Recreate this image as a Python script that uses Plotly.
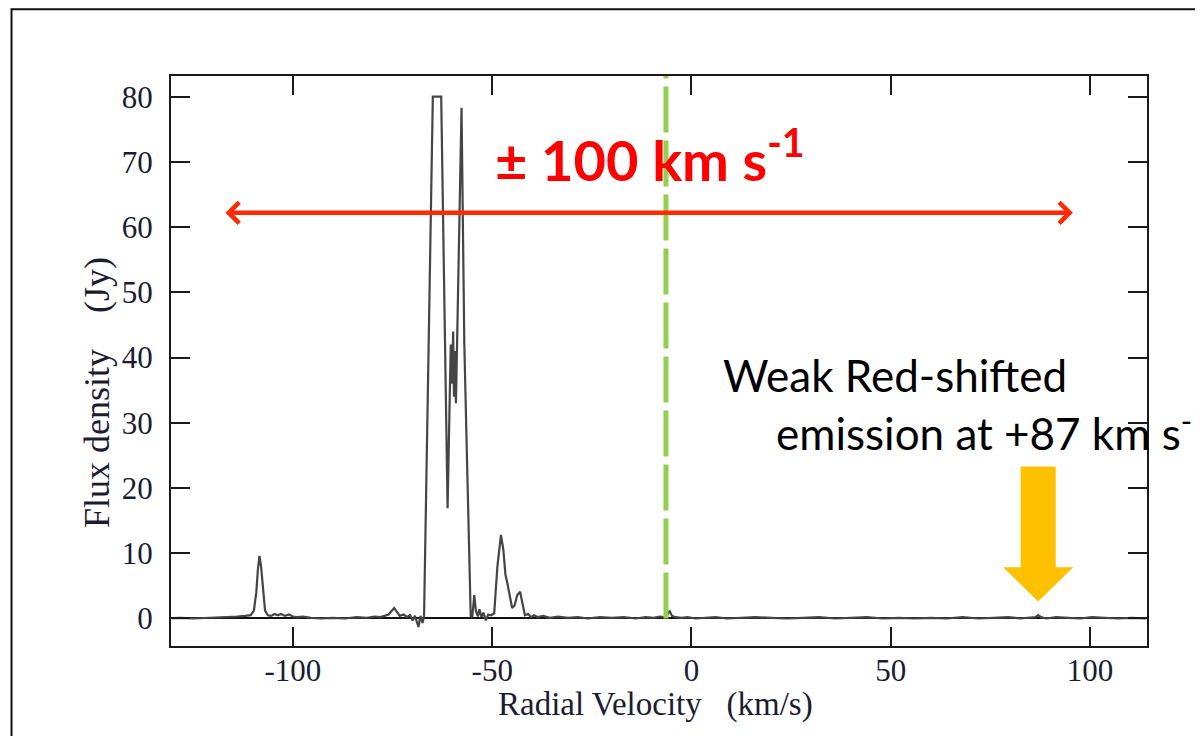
import plotly.graph_objects as go

# ---- data ----
velocity = [
    -130.5, -128, -125, -122, -119, -116.5, -114, -112, -110.6, -109.8,
    -109.2, -108.8, -108.4, -108.0, -107.5, -107.0, -106.3, -105.5, -104.6, -103.8,
    -103.0, -102.0, -101.0, -100.0, -99.0, -97.5, -95.5, -93, -90, -87,
    -84, -81.5, -79.5, -78, -77, -76, -75.3, -74.6, -73.9, -73.2,
    -72.2, -71.4, -70.6, -70, -69.4, -68.9, -68.5, -68.0, -67.5, -67.1,
    -64.9, -62.8, -61.2, -60.4, -60.1, -59.8, -59.6, -59.4, -59.1, -57.7,
    -57.0, -55.4, -55.0, -54.5, -54.1, -53.6, -53.2, -52.7, -52.2, -51.6,
    -51.0, -50.3, -49.5, -48.7, -47.8, -47.2, -46.7, -46.2, -45.6, -45.0,
    -44.4, -43.7, -43.0, -42.4, -41.8, -41.0, -40.3, -39.5, -38.5, -37.2,
    -35.5, -33.5, -31, -28.5, -26, -23, -20, -17, -14, -11.5,
    -9.5, -8, -6.8, -6.0, -5.5, -4.9, -4, -2.5, -1, 1,
    3.5, 6, 9, 12.5, 16, 20, 24, 28, 32, 36,
    40, 44, 48, 52, 56, 60, 64, 68, 72, 76,
    79.5, 82.5, 85, 86.3, 87, 87.7, 89, 91.5, 94.5, 97.5,
    100.5, 103.5, 107, 110.5, 114,
]
flux = [
    0.05, 0.1, 0.0, 0.05, 0.1, 0.2, 0.3, 0.4, 0.5, 1.2,
    4.0, 7.5, 9.6, 8.0, 4.0, 1.2, 0.5, 0.4, 0.7, 0.5,
    0.7, 0.4, 0.6, 0.3, 0.2, 0.3, 0.1, 0.0, 0.1, 0.0,
    0.2, 0.1, 0.3, 0.2, 0.4, 0.6, 1.1, 1.6, 1.0, 0.4,
    0.6, 0.2, 0.5, -0.3, 0.4, -0.6, -1.3, 0.4, -0.7, 0.4,
    80, 80, 16.9, 42, 36, 44, 34, 41, 33, 78.3,
    42, 0.4, 0.2, 3.6, 1.2, 0.3, 1.4, 0.2, 0.9, -0.3,
    0.6, 0.5, 0.8, 8.0, 12.8, 10.5, 6.8, 5.4, 3.2, 1.6,
    2.0, 3.6, 4.1, 2.4, 0.5, 0.7, 0.2, 0.5, 0.2, 0.4,
    0.1, 0.3, 0.1, 0.2, 0.0, 0.2, 0.1, 0.2, 0.0, 0.2,
    0.1, 0.3, 0.2, 0.6, 1.2, 0.4, 0.2, 0.1, 0.2, 0.0,
    0.1, 0.2, 0.0, 0.1, 0.2, 0.1, 0.0, 0.1, 0.2, 0.0,
    0.1, 0.2, 0.0, 0.1, 0.0, 0.1, 0.0, 0.2, 0.0, 0.1,
    0.2, 0.0, 0.1, 0.2, 0.5, 0.2, 0.0, 0.2, 0.1, 0.0,
    0.2, 0.1, 0.0, 0.1, 0.0,
]
assert len(velocity) == len(flux)

x_ticks = [-100, -50, 0, 50, 100]
x_tick_labels = ["-100", "-50", "0", "50", "100"]
y_ticks = [0, 10, 20, 30, 40, 50, 60, 70, 80]
x_range = [-130.6, 114.3]
y_range = [-4.22, 83.17]

systemic_velocity = -6.4          # green dashed line
range_arrow = [-117.3, 95.7]      # red double arrow ends
range_arrow_level = 62.2
weak_feature_velocity = 87        # orange arrow

sp = "\u00a0"
x_title = "Radial Velocity" + sp * 3 + "(km/s)"
y_title = "Flux density" + sp * 4 + "(Jy)"
range_label = "± 100 km s<sup>-1</sup>"
weak_line1 = "Weak Red-shifted"
weak_line2 = "emission at +87 km s<sup>-1</sup>"

serif = "Liberation Serif"
sans = "Lato"
axis_col = "#1a1a1a"
tick_col = "#1c1c30"

fig = go.Figure()
fig.add_trace(go.Scatter(
    x=velocity, y=flux, mode="lines",
    line=dict(color="#454545", width=2.2),
    showlegend=False, hoverinfo="skip",
))

axis_common = dict(
    showgrid=False, showline=True, linecolor=axis_col, linewidth=2,
    mirror="ticks", ticks="inside", ticklen=19, tickwidth=2, tickcolor=axis_col,
    tickfont=dict(family=serif, size=31, color=tick_col),
)
fig.update_xaxes(range=x_range, tickvals=x_ticks, ticktext=x_tick_labels,
                 zeroline=False, ticklabelstandoff=-4, **axis_common)
fig.update_yaxes(range=y_range, tickvals=y_ticks, zeroline=True,
                 zerolinecolor="#111111", zerolinewidth=2,
                 ticklabelstandoff=10, **axis_common)

shapes = []
# outer frame (extends past the right/bottom of the picture)
shapes.append(dict(type="rect", xref="paper", yref="paper",
                   x0=-0.1634, x1=1.08, y0=-0.2, y1=1.117,
                   line=dict(color="#111111", width=2), fillcolor="rgba(0,0,0,0)",
                   layer="above"))
# green dashed systemic velocity line
shapes.append(dict(type="line", xref="x", yref="y",
                   x0=systemic_velocity, x1=systemic_velocity,
                   y0=0, y1=y_range[1],
                   line=dict(color="#92d050", width=5, dash="46px,8px")))
# orange block arrow pointing at the weak feature
c = weak_feature_velocity
sw, hw = 4.4, 8.8
top, base, tip = 23.3, 7.85, 2.6
path = (f"M {c-sw},{top} L {c+sw},{top} L {c+sw},{base} L {c+hw},{base} "
        f"L {c},{tip} L {c-hw},{base} L {c-sw},{base} Z")
shapes.append(dict(type="path", xref="x", yref="y", path=path,
                   fillcolor="#ffc000", line=dict(width=0)))

annotations = [
    # red double-headed arrow
    dict(x=range_arrow[1], y=range_arrow_level, ax=range_arrow[0], ay=range_arrow_level,
         xref="x", yref="y", axref="x", ayref="y", text="",
         showarrow=True, arrowside="end+start", arrowhead=4, startarrowhead=4,
         arrowsize=0.9, startarrowsize=0.9, arrowwidth=4.5, arrowcolor="#ff2a00"),
    dict(x=-10.5, y=71.0, xref="x", yref="y", text=range_label, showarrow=False,
         font=dict(family=sans, size=56, color="#ff0000", weight="bold"),
         xanchor="center", yanchor="middle"),
    dict(x=7.5, y=37.4, xref="x", yref="y", text=weak_line1, showarrow=False,
         font=dict(family=sans, size=44, color="#000000"),
         xanchor="left", yanchor="middle"),
    dict(x=20.6, y=28.8, xref="x", yref="y", text=weak_line2, showarrow=False,
         font=dict(family=sans, size=44, color="#000000"),
         xanchor="left", yanchor="middle"),
    # axis titles
    dict(x=0.496, y=-0.1035, xref="paper", yref="paper", text=x_title, showarrow=False,
         font=dict(family=serif, size=33, color=tick_col),
         xanchor="center", yanchor="middle"),
    dict(x=-0.0758, y=0.444, xref="paper", yref="paper", text=y_title, showarrow=False,
         font=dict(family=serif, size=36, color=tick_col), textangle=-90,
         xanchor="center", yanchor="middle"),
]

# page body has an 8px margin: shrink the figure and margins so the
# plot area lands where it is in the reference window
fig.update_layout(
    width=1195, height=728,
    margin=dict(l=163, r=56, t=68, b=90),
    paper_bgcolor="white", plot_bgcolor="white",
    shapes=shapes, annotations=annotations,
    showlegend=False,
)

fig.write_html("out.html")
